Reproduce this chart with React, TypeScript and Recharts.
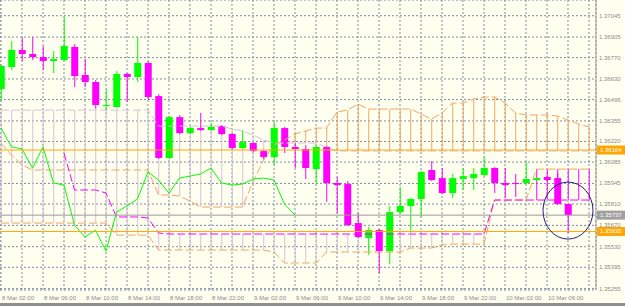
import React from 'react';
import {
  ComposedChart, Bar, Line, XAxis, YAxis, CartesianGrid,
  ReferenceLine, ReferenceDot, Cell,
} from 'recharts';

const W = 625;
const H = 306;

const BG = '#fffff0';
const BULL = '#00ff00';
const BEAR = '#ff00ff';
const SANDY = '#f4a460';
const THISTLE = '#d8bfd8';
const GRID = '#7d8ca3';
const AXIS_TEXT = '#8c8c8c';

// H1 candles from 8 Mar 02:00
const opens = [
  1.36564, 1.36708, 1.36820, 1.36794, 1.36774, 1.36748, 1.36754, 1.36840, 1.36656, 1.36610,
  1.36453, 1.36446, 1.36663, 1.36643, 1.36735, 1.36518, 1.36112, 1.36380, 1.36275, 1.36308,
  1.36295, 1.36321, 1.36269, 1.36177, 1.36210, 1.36157, 1.36118, 1.36308, 1.36184, 1.36171,
  1.36039, 1.36184, 1.35948, 1.35941, 1.35685, 1.35587, 1.35639, 1.35501, 1.35757, 1.35797,
  1.35843, 1.36033, 1.35980, 1.35882, 1.35974, 1.35980, 1.36000, 1.36046, 1.35948, 1.35948,
  1.35948, 1.35967, 1.35987, 1.35980, 1.35810,
];
const highs = [
  1.36722, 1.36879, 1.36899, 1.36905, 1.36846, 1.36813, 1.37037, 1.36859, 1.36761, 1.36623,
  1.36564, 1.36682, 1.36669, 1.36905, 1.36748, 1.36531, 1.36387, 1.36394, 1.36315, 1.36407,
  1.36341, 1.36328, 1.36275, 1.36295, 1.36216, 1.36164, 1.36348, 1.36315, 1.36210, 1.36197,
  1.36197, 1.36190, 1.35987, 1.35961, 1.35751, 1.35659, 1.35646, 1.35797, 1.35921, 1.35849,
  1.36026, 1.36092, 1.36046, 1.36007, 1.36046, 1.36046, 1.36118, 1.36052, 1.36046, 1.36007,
  1.36085, 1.35987, 1.35993, 1.36013, 1.35816,
];
const lows = [
  1.36492, 1.36689, 1.36748, 1.36754, 1.36689, 1.36669, 1.36748, 1.36577, 1.36577, 1.36433,
  1.36426, 1.36439, 1.36479, 1.36610, 1.36492, 1.36105, 1.36105, 1.36269, 1.36269, 1.36289,
  1.36289, 1.36262, 1.36171, 1.36171, 1.36151, 1.36105, 1.36066, 1.36144, 1.36046, 1.35974,
  1.35941, 1.35823, 1.35751, 1.35665, 1.35587, 1.35475, 1.35357, 1.35416, 1.35744, 1.35620,
  1.35725, 1.35961, 1.35875, 1.35849, 1.35902, 1.35902, 1.35993, 1.35882, 1.35849, 1.35856,
  1.35941, 1.35961, 1.35961, 1.35803, 1.35620,
];
const closes = [
  1.36715, 1.36820, 1.36794, 1.36774, 1.36748, 1.36761, 1.36846, 1.36649, 1.36610, 1.36459,
  1.36459, 1.36663, 1.36643, 1.36735, 1.36512, 1.36112, 1.36380, 1.36275, 1.36308, 1.36295,
  1.36315, 1.36269, 1.36177, 1.36216, 1.36157, 1.36118, 1.36308, 1.36184, 1.36171, 1.36046,
  1.36184, 1.35948, 1.35934, 1.35672, 1.35593, 1.35639, 1.35501, 1.35757, 1.35797, 1.35843,
  1.36020, 1.35967, 1.35882, 1.35980, 1.35993, 1.36007, 1.36046, 1.35948, 1.35934, 1.35941,
  1.35974, 1.35980, 1.35967, 1.35810, 1.35737,
];

// lagging line (lime)
const chikou = [
  1.36308, 1.36184, 1.36171, 1.36046, 1.36184, 1.35948, 1.35934, 1.35672, 1.35593, 1.35639,
  1.35501, 1.35757, 1.35797, 1.35843, 1.36020, 1.35967, 1.35882, 1.35980, 1.35993, 1.36007,
  1.36046, 1.35948, 1.35934, 1.35941, 1.35974, 1.35980, 1.35967, 1.35810, 1.35737,
];

// upper cloud: span A (sandy) / span B (thistle)
const cloudA = [
  1.36210, 1.36131, 1.36066, 1.36033, 1.36033, 1.36033, 1.36033, 1.36033, 1.36033, 1.36033,
  1.36033, 1.36033, 1.36033, 1.36033, 1.36033, 1.35869, 1.35869, 1.35862, 1.35829, 1.35790,
  1.35790, 1.35790, 1.35790, 1.35790, 1.35954, 1.36098, 1.36197, 1.36230, 1.36269, 1.36289,
  1.36308, 1.36308, 1.36413, 1.36426, 1.36466, 1.36433, 1.36433, 1.36433, 1.36433, 1.36433,
  1.36400, 1.36367, 1.36407, 1.36472, 1.36472, 1.36499, 1.36512, 1.36512, 1.36472, 1.36407,
  1.36394, 1.36394, 1.36394, 1.36387, 1.36361, 1.36335, 1.36315,
];
const cloudB = [
  1.36426, 1.36426, 1.36426, 1.36426, 1.36426, 1.36426, 1.36426, 1.36426, 1.36426, 1.36426,
  1.36426, 1.36426, 1.36426, 1.36426, 1.36426, 1.36321, 1.36321, 1.36321, 1.36321, 1.36321,
  1.36321, 1.36321, 1.36302, 1.36289, 1.36262, 1.36230, 1.36210, 1.36210, 1.36210, 1.36210,
  1.36210, 1.36184, 1.36157, 1.36157, 1.36157, 1.36157, 1.36157, 1.36157, 1.36157, 1.36157,
  1.36157, 1.36157, 1.36157, 1.36157, 1.36157, 1.36157, 1.36157, 1.36157, 1.36157, 1.36157,
  1.36157, 1.36157, 1.36157, 1.36157, 1.36157, 1.36157, 1.36157,
];

// lower band: magenta and tan step lines
const bandMagenta = [
  null, null, null, null, null, null, 1.36144, 1.35902, 1.35902, 1.35902,
  1.35882, 1.35725, 1.35725, 1.35725, 1.35718, 1.35620, 1.35613, 1.35613, 1.35613, 1.35613,
  1.35613, 1.35613, 1.35613, 1.35613, 1.35613, 1.35613, 1.35613, 1.35613, 1.35613, 1.35613,
  1.35613, 1.35613, 1.35613, 1.35613, 1.35613, 1.35613, 1.35613, 1.35613, 1.35613, 1.35613,
  1.35613, 1.35613, 1.35613, 1.35613, 1.35613, 1.35613, 1.35613, 1.35836, 1.35836, 1.35836,
  1.35836, 1.35836, 1.35836, 1.35836, 1.35836, 1.35836, 1.35836,
];
const bandTan = [
  1.35685, 1.35685, 1.35685, 1.35685, 1.35685, 1.35685, 1.35685, 1.35685, 1.35685, 1.35685,
  1.35685, 1.35606, 1.35606, 1.35606, 1.35606, 1.35508, 1.35508, 1.35508, 1.35508, 1.35508,
  1.35508, 1.35508, 1.35508, 1.35508, 1.35508, 1.35508, 1.35495, 1.35423, 1.35423, 1.35423,
  1.35423, 1.35495, 1.35495, 1.35495, 1.35495, 1.35495, 1.35495, 1.35495, 1.35495, 1.35521,
  1.35521, 1.35521, 1.35541, 1.35547, 1.35547, 1.35547, 1.35547, 1.35836, 1.35836, 1.35836,
  1.35836, 1.36039, 1.36039, 1.36039, 1.36039, 1.36039, 1.36039,
];

const priceTicks = [
  1.37045, 1.36905, 1.36770, 1.36630, 1.36495, 1.36355, 1.36220,
  1.36085, 1.35945, 1.35810, 1.35670, 1.35530, 1.35395, 1.35255,
];
const gridTicks = [
  0, 2, 4, 6, 8, 10, 12, 14, 16, 18, 20, 22, 24, 26, 28,
  30, 32, 34, 36, 38, 40, 42, 44, 46, 48, 50, 52, 54, 56,
];
const timeTicks = [0, 4, 8, 12, 16, 20, 24, 28, 32, 36, 40, 44, 48, 52];
const timeLabels = [
  '8 Mar 02:00', '8 Mar 06:00', '8 Mar 10:00', '8 Mar 14:00', '8 Mar 18:00', '8 Mar 22:00',
  '9 Mar 02:00', '9 Mar 06:00', '9 Mar 10:00', '9 Mar 14:00', '9 Mar 18:00', '9 Mar 22:00',
  '10 Mar 02:00', '10 Mar 06:00',
];

const linePrices = { resistance: 1.36164, support: 1.35630, bid: 1.35737 };
const markPoint = { i: 54, price: 1.35767 };

const X_DOMAIN: [number, number] = [-0.095, 56.667];
const Y_DOMAIN: [number, number] = [1.35246, 1.37148];

const data = cloudA.map((a, i) => {
  const b = cloudB[i];
  const m = bandMagenta[i];
  const t = bandTan[i];
  // on the left the hatch runs unbroken from the upper cloud down to the tan line
  const lowTop = i <= 14 ? a : m;
  const hasCandle = i < opens.length;
  return {
    i,
    open: hasCandle ? opens[i] : null,
    high: hasCandle ? highs[i] : null,
    low: hasCandle ? lows[i] : null,
    close: hasCandle ? closes[i] : null,
    candle: hasCandle ? [lows[i], highs[i]] : null,
    chikou: i < chikou.length ? chikou[i] : null,
    cloudA: a,
    cloudB: b,
    bandMagenta: m,
    bandTan: t,
    upperFill: [Math.min(a, b), Math.max(a, b)],
    upperColor: a > b ? SANDY : THISTLE,
    lowerFill: lowTop != null ? [Math.min(lowTop, t), Math.max(lowTop, t)] : null,
    lowerColor: i <= 14 || (m != null && m > t) ? THISTLE : BEAR,
  };
});

const Candle = (props: any) => {
  const { x, y, width, height, payload } = props;
  if (payload.open == null) return null;
  const { open, close, high, low } = payload;
  const yHigh = Math.min(y, y + height);
  const yLow = Math.max(y, y + height);
  const span = high - low;
  const k = span > 0 ? (yLow - yHigh) / span : 0;
  const yO = yHigh + (high - open) * k;
  const yC = yHigh + (high - close) * k;
  const col = close >= open ? BULL : BEAR;
  const cx = x + width / 2;
  const top = Math.min(yO, yC);
  const h = Math.max(Math.abs(yC - yO), 1);
  return (
    <g>
      <line x1={cx} x2={cx} y1={yHigh} y2={yLow} stroke={col} strokeWidth={1} />
      <rect x={x} y={top} width={width} height={h} fill={col} />
    </g>
  );
};

const TimeTick = (props: any) => {
  const { x, y, payload } = props;
  const idx = timeTicks.indexOf(payload.value);
  if (idx < 0) return <g />;
  return (
    <text x={x + 1} y={y + 10} fontSize={6} fill={AXIS_TEXT} textAnchor="start">
      {timeLabels[idx]}
    </text>
  );
};

const PriceTick = (props: any) => {
  const { x, y, payload } = props;
  return (
    <text x={x + 3} y={y + 2} fontSize={6} fill={AXIS_TEXT} textAnchor="start">
      {payload.value.toFixed(5)}
    </text>
  );
};

const PriceTag = (props: any) => {
  const { viewBox, tag, bg, fg } = props;
  if (!viewBox) return null;
  const x = viewBox.x + viewBox.width + 1;
  const y = viewBox.y;
  return (
    <g>
      <rect x={x} y={y - 4.5} width={28} height={9} fill={bg} />
      <text x={x + 3} y={y + 2} fontSize={6} fill={fg}>{tag}</text>
    </g>
  );
};

const Ring = (props: any) => (
  <ellipse cx={props.cx} cy={props.cy} rx={25} ry={28.5} fill="none" stroke="#1f1f7a" strokeWidth={1} />
);

const lineProps = { dot: false, activeDot: false, isAnimationActive: false, legendType: 'none' as const };

export default function App() {
  return (
    <div style={{ position: 'absolute', left: 0, top: 0, width: W, height: H, background: BG, overflow: 'hidden' }}>
      <ComposedChart
        width={W}
        height={H}
        data={data}
        margin={{ top: 0, right: 0, bottom: 0, left: 0 }}
        style={{ fontFamily: 'Liberation Sans' }}
      >
        <CartesianGrid stroke={GRID} strokeDasharray="2 2" />
        <XAxis
          type="number"
          dataKey="i"
          domain={X_DOMAIN}
          ticks={gridTicks}
          interval={0}
          allowDataOverflow
          axisLine={false}
          tickLine={false}
          tickSize={0}
          tickMargin={0}
          height={16}
          tick={<TimeTick />}
        />
        <XAxis xAxisId="h1" type="number" dataKey="i" domain={X_DOMAIN} allowDataOverflow hide />
        <XAxis xAxisId="h2" type="number" dataKey="i" domain={X_DOMAIN} allowDataOverflow hide />
        <XAxis xAxisId="c" type="number" dataKey="i" domain={X_DOMAIN} allowDataOverflow hide />
        <YAxis
          orientation="right"
          type="number"
          domain={Y_DOMAIN}
          ticks={priceTicks}
          interval={0}
          allowDataOverflow
          width={29}
          axisLine={{ stroke: '#9c9c9c' }}
          tickLine={false}
          tickSize={0}
          tickMargin={0}
          tick={<PriceTick />}
        />

        <Bar xAxisId="h1" dataKey={(d: any) => d.upperFill} barSize={1} isAnimationActive={false}>
          {data.map((d, i) => <Cell key={i} fill={d.upperColor} />)}
        </Bar>
        <Bar xAxisId="h2" dataKey={(d: any) => d.lowerFill} barSize={1} isAnimationActive={false}>
          {data.map((d, i) => <Cell key={i} fill={d.lowerColor} />)}
        </Bar>

        <Line dataKey="cloudB" stroke={THISTLE} strokeDasharray="8 3" {...lineProps} />
        <Line dataKey="cloudA" stroke={SANDY} strokeDasharray="8 3" {...lineProps} />
        <Line dataKey="bandTan" stroke={SANDY} strokeDasharray="8 3" {...lineProps} />
        <Line dataKey="bandMagenta" stroke={BEAR} strokeDasharray="8 3" {...lineProps} />
        <Line dataKey="chikou" stroke={BULL} strokeWidth={1} {...lineProps} />

        <Bar xAxisId="c" dataKey={(d: any) => d.candle} barSize={7} shape={<Candle />} isAnimationActive={false} />

        <ReferenceLine y={linePrices.resistance} stroke="#ffa500"
          label={<PriceTag tag="1.36164" bg="#ffa500" fg="#ffffff" />} />
        <ReferenceLine y={linePrices.bid} stroke="#9a9a9a"
          label={<PriceTag tag="1.35737" bg="#a0a0a0" fg="#ffffff" />} />
        <ReferenceLine y={linePrices.support} stroke="#ffa500"
          label={<PriceTag tag="1.35630" bg="#ffa500" fg="#ffffff" />} />

        <ReferenceDot x={markPoint.i} y={markPoint.price} shape={<Ring />} />
      </ComposedChart>
      <div style={{ position: 'absolute', left: 0, top: 303, width: W, height: 3, background: '#8f8f8f' }} />
    </div>
  );
}
